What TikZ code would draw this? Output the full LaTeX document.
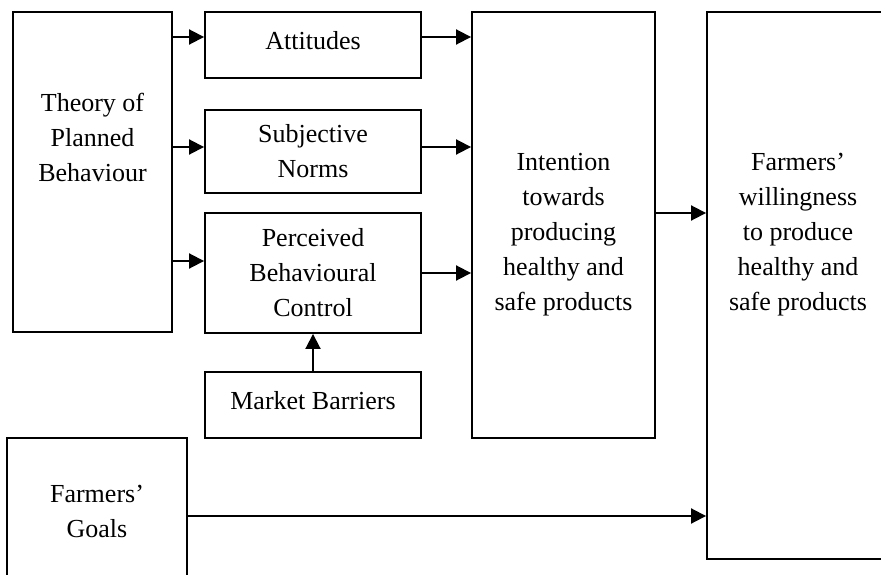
\documentclass[tikz,border=0pt]{standalone}
\usepackage{fontspec}
\setmainfont{Liberation Serif}
\usetikzlibrary{arrows.meta}
\tikzset{
  blk/.style={draw,line width=1.9pt,align=center,inner sep=0pt,font=\fontsize{26}{35}\selectfont},
  txt/.style={align=center,inner sep=0pt,font=\fontsize{26}{35}\selectfont},
  arr/.style={-{Triangle[length=15pt,width=15pt]},line width=1.9pt}
}
\begin{document}
\begin{tikzpicture}[x=1pt,y=-1pt]
\clip (0,0) rectangle (881,575);
\node[blk,minimum width=159,minimum height=320](tpb) at (92.5,172){};
\node[txt](tpbtxt) at (92.5,137){Theory of\\Planned\\Behaviour};
\node[blk,minimum width=216,minimum height=66,text depth=10pt](att) at (313,45){Attitudes};
\node[blk,minimum width=216,minimum height=83](sn) at (313,151.5){Subjective\\Norms};
\node[blk,minimum width=216,minimum height=120](pbc) at (313,273){Perceived\\Behavioural\\Control};
\node[blk,minimum width=216,minimum height=66,text depth=10pt](mb) at (313,405){Market Barriers};
\node[blk,minimum width=183,minimum height=426](int) at (563.5,225){};
\node[txt](inttxt) at (563.5,235){Intention\\towards\\producing\\healthy and\\safe products};
\node[blk,minimum width=182,minimum height=547](wil) at (798,285.5){};
\node[txt](wiltxt) at (798,235){Farmers'\\willingness\\to produce\\healthy and\\safe products};
\node[blk,minimum width=180,minimum height=146](goals) at (97,511){Farmers'\\Goals};
% connectors
\draw[arr](tpb.east |- 0,37)--(att.west |- 0,37);
\draw[arr](tpb.east |- 0,147)--(sn.west |- 0,147);
\draw[arr](tpb.east |- 0,261)--(pbc.west |- 0,261);
\draw[arr](att.east |- 0,37)--(int.west |- 0,37);
\draw[arr](sn.east |- 0,147)--(int.west |- 0,147);
\draw[arr](pbc.east |- 0,273)--(int.west |- 0,273);
\draw[arr](int.east |- 0,213)--(wil.west |- 0,213);
\draw[arr](mb.north)--(pbc.south);
\draw[arr](goals.east |- 0,516)--(wil.west |- 0,516);
\end{tikzpicture}
\end{document}
